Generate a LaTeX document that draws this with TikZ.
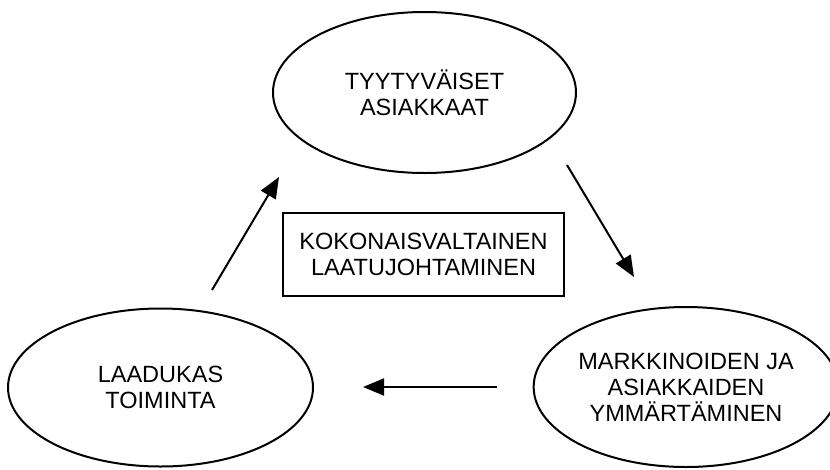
\documentclass[tikz,border=0pt]{standalone}
\usepackage{fontspec}
\setmainfont{Liberation Sans}
\usetikzlibrary{shapes.geometric,arrows.meta}
\tikzset{
  oval/.style={draw=black, line width=2pt, ellipse, inner sep=0pt, align=center, font=\fontsize{23.5}{26}\selectfont},
  boxnode/.style={draw=black, line width=2pt, rectangle, inner sep=0pt, align=center, font=\fontsize{23.5}{26}\selectfont},
  flow/.style={line width=2pt, -{Triangle[length=21pt,width=17pt]}}
}
\begin{document}
\begin{tikzpicture}[x=1pt,y=-1pt]
\useasboundingbox (0,0) rectangle (830,469);
\node[oval, minimum width=303pt, minimum height=161pt] (top) at (424.5,92.5) {TYYTYVÄISET\\ASIAKKAAT};
\node[oval, minimum width=305pt, minimum height=158pt] (left) at (160.5,387.5) {LAADUKAS\\TOIMINTA};
\node[oval, minimum width=286pt, minimum height=160pt] (right) at (686,387) {MARKKINOIDEN JA\\ASIAKKAIDEN\\YMMÄRTÄMINEN};
\node[boxnode, minimum width=281pt, minimum height=83pt] (center) at (423.5,254.5) {KOKONAISVALTAINEN\\LAATUJOHTAMINEN};
\coordinate (a1s) at (212,290);
\coordinate (a1e) at (279,177);
\coordinate (a2s) at (567,165);
\coordinate (a2e) at (634,277);
\coordinate (a3s) at (497,387);
\coordinate (a3e) at (363,387);
\draw[flow] (a1s) -- (a1e);
\draw[flow] (a2s) -- (a2e);
\draw[flow] (a3s) -- (a3e);
\end{tikzpicture}
\end{document}
